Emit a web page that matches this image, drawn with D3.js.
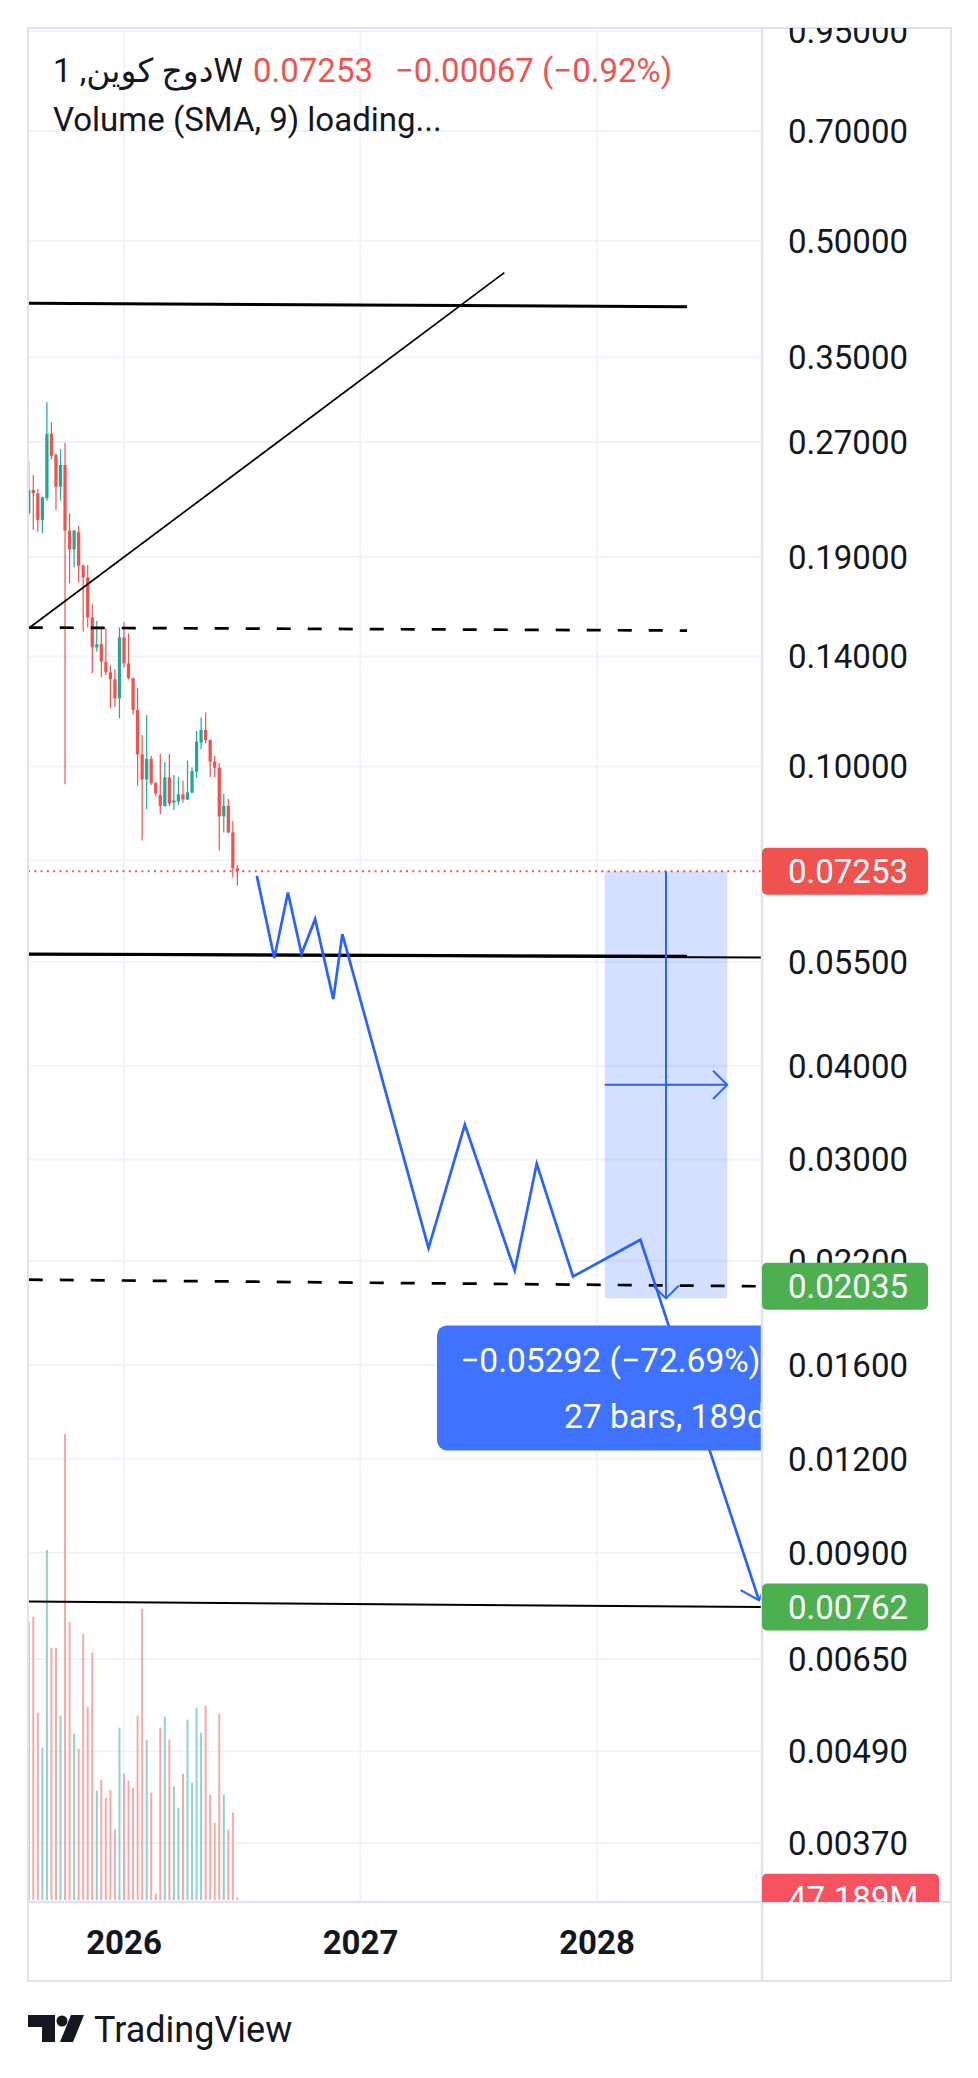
<!DOCTYPE html>
<html>
<head>
<meta charset="utf-8">
<script src="https://cdn.jsdelivr.net/npm/d3@7"></script>
<style>
  html, body { margin: 0; padding: 0; background: #fff; }
  svg { display: block; font-family: Roboto, "DejaVu Sans", "Noto Sans", sans-serif; }
</style>
</head>
<body>
<div class="canvas"></div>
<script>
// weekly candles, first bar week of 2025-08-07
const firstWeek = '2025-08-07'
const opens  = [0.2171,0.2332,0.2308,0.2127,0.2273,0.2768,0.2596,0.2356,0.2517,0.2059,0.1944,0.2048,0.1849,0.1784,0.1579,0.1440,0.1454,0.1378,0.1334,0.1306,0.1232,0.1485,0.1371,0.1310,0.1189,0.1038,0.0961,0.1023,0.0950,0.0916,0.0886,0.0967,0.0895,0.0898,0.0918,0.0904,0.0923,0.0984,0.1076,0.1118,0.1084,0.1015,0.0996,0.0858,0.0886,0.0817,0.0732]
const highs  = [0.2548,0.2441,0.2339,0.2285,0.3050,0.2869,0.2609,0.2643,0.2695,0.2171,0.2063,0.2088,0.1857,0.1853,0.1645,0.1561,0.1527,0.1527,0.1364,0.1346,0.1531,0.1555,0.1503,0.1313,0.1270,0.1101,0.1171,0.1033,0.0955,0.1039,0.1014,0.1039,0.0974,0.0969,0.0957,0.1018,0.0997,0.1115,0.1162,0.1180,0.1086,0.1033,0.1010,0.0919,0.0905,0.0846,0.0740]
const lows   = [0.2149,0.2063,0.2052,0.2042,0.2257,0.2562,0.2193,0.2257,0.0947,0.1752,0.1840,0.1756,0.1511,0.1531,0.1330,0.1421,0.1314,0.1323,0.1195,0.1201,0.1159,0.1354,0.1305,0.1173,0.0943,0.0797,0.0877,0.0945,0.0912,0.0864,0.0884,0.0886,0.0875,0.0889,0.0895,0.0902,0.0921,0.0966,0.1054,0.1073,0.0969,0.0967,0.0773,0.0817,0.0815,0.0712,0.0694]
const closes = [0.2332,0.2308,0.2127,0.2280,0.2768,0.2588,0.2356,0.2517,0.2059,0.1944,0.2059,0.1849,0.1784,0.1579,0.1440,0.1454,0.1378,0.1334,0.1306,0.1232,0.1485,0.1371,0.1310,0.1189,0.1038,0.0961,0.1023,0.0950,0.0921,0.0886,0.0967,0.0893,0.0901,0.0918,0.0904,0.0924,0.0986,0.1079,0.1118,0.1084,0.1015,0.0996,0.0858,0.0886,0.0817,0.0732,0.07253]
// volume in millions
const volumes = [5628,5729,3788,3080,7077,5102,5102,3727,9423,5628,3363,3060,5385,3909,5001,2211,2433,2069,2231,1422,3485,2554,2413,2271,3727,5891,3242,2170,128,3485,3707,3242,2292,1867,2554,3646,2372,3889,3383,3929,2130,1564,3768,2130,1422,1766,47.189]

// projected path (blue)
const pathDates  = ['2026-07-25','2026-08-21','2026-09-11','2026-10-02','2026-10-23','2026-11-20','2026-12-04','2027-04-16','2027-06-11','2027-08-27','2027-09-30','2027-11-25','2028-03-08','2028-09-07']
const pathPrices = [0.07152,0.05561,0.06796,0.05634,0.06264,0.04904,0.05984,0.02288,0.03337,0.02136,0.02962,0.02097,0.02347,0.00778]

// drawn lines: [date1, price1, date2, price2]
const drawnLines = [
  ['2025-08-07', 0.4130, '2028-05-19', 0.4087],
  ['2025-08-07', 0.1527, '2027-08-11', 0.4536],
  ['2025-08-07', 0.1530, '2028-05-19', 0.1516],
  ['2025-08-07', 0.0563, '2028-05-19', 0.0559],
  ['2025-08-07', 0.0562, '2028-09-14', 0.0557],
  ['2025-08-07', 0.02077, '2028-09-14', 0.02035],
  ['2025-08-07', 0.00775, '2028-09-14', 0.00762]
]
const lineKinds = ['thick', 'thin', 'dash', 'thick', 'mid', 'dash', 'mid']

// date & price range measure
const rangeDates  = ['2028-01-13', '2028-07-20']
const rangePrices = [0.07253, 0.01961]
const rangeTexts  = ['\u22120.05292 (\u221272.69%) \u22125,292', '27 bars, 189d']

const priceTicks = [0.95,0.70,0.50,0.35,0.27,0.19,0.14,0.10,0.075,0.055,0.04,0.03,0.022,0.016,0.012,0.009,0.0065,0.0049,0.0037]
const hiddenTicks = [0.075] // label sits under the last-price badge
const yearTicks = ['2026-01-01', '2027-01-01', '2028-01-01']
const priceBadges = [0.07253, 0.02035, 0.00762]
const badgeKinds = ['last', 'line', 'line']
const volumeBadge = '47.189M'

const up = '#26a69a', down = '#ef5350'
const parse = d3.utcParse('%Y-%m-%d')

const W = 978, H = 2078
const pane = { left: 28, top: 28, right: 762, bottom: 1902 }

const svg = d3.select('.canvas')
  .append('svg')
  .attr('width', W)
  .attr('height', H)

svg.append('rect').attr('width', W).attr('height', H).attr('fill', '#fff')

const x = d3.scaleUtc()
  .domain([parse('2026-01-01'), parse('2028-01-01')])
  .range([124, 597])

const y = d3.scaleLog()
  .domain([0.7, 0.0037])
  .range([131, 1843])

const yVol = d3.scaleLinear()
  .domain([0, 9423])
  .range([1900, 1434])

const weekPx = x(parse('2026-01-08')) - x(parse('2026-01-01'))
const start = parse(firstWeek)
const bars = opens.map((o, i) => ({
  date: d3.utcDay.offset(start, i * 7),
  o, h: highs[i], l: lows[i], c: closes[i], v: volumes[i]
}))

const defs = svg.append('defs')
defs.append('clipPath').attr('id', 'pane')
  .append('rect')
  .attr('x', pane.left).attr('y', pane.top)
  .attr('width', pane.right - pane.left).attr('height', pane.bottom - pane.top)
defs.append('clipPath').attr('id', 'axis')
  .append('rect')
  .attr('x', pane.right).attr('y', pane.top)
  .attr('width', 951 - pane.right).attr('height', pane.bottom - pane.top)

const graph = svg.append('g').attr('clip-path', 'url(#pane)')

// grid
graph.selectAll('.hgrid')
  .data(priceTicks)
  .enter().append('line')
  .attr('x1', pane.left).attr('x2', pane.right)
  .attr('y1', d => y(d)).attr('y2', d => y(d))
  .attr('stroke', '#f0f3fa').attr('stroke-width', 2)

graph.selectAll('.vgrid')
  .data(yearTicks)
  .enter().append('line')
  .attr('x1', d => x(parse(d))).attr('x2', d => x(parse(d)))
  .attr('y1', pane.top).attr('y2', pane.bottom)
  .attr('stroke', '#f0f3fa').attr('stroke-width', 2)

// volume
graph.selectAll('.vol')
  .data(bars)
  .enter().append('rect')
  .attr('x', d => x(d.date) - 1)
  .attr('width', 2)
  .attr('y', d => yVol(d.v))
  .attr('height', d => yVol(0) - yVol(d.v))
  .attr('fill', d => d.c >= d.o ? '#92d2cc' : '#f7a9a7')

// measure box
const rx0 = x(parse(rangeDates[0])), rx1 = x(parse(rangeDates[1]))
const ry0 = y(rangePrices[0]), ry1 = y(rangePrices[1])
const rxm = (rx0 + rx1) / 2, rym = (ry0 + ry1) / 2
graph.append('rect')
  .attr('x', rx0).attr('y', ry0)
  .attr('width', rx1 - rx0).attr('height', ry1 - ry0)
  .attr('fill', 'rgba(41,98,255,0.2)')

// last price line
graph.append('line')
  .attr('x1', pane.left).attr('x2', pane.right)
  .attr('y1', y(closes[closes.length - 1])).attr('y2', y(closes[closes.length - 1]))
  .attr('stroke', down).attr('stroke-width', 2)
  .attr('stroke-dasharray', '2,4.3')

// candles
const candle = graph.selectAll('.candle')
  .data(bars)
  .enter().append('g')
  .attr('fill', d => d.c >= d.o ? up : down)
candle.append('rect')
  .attr('x', d => x(d.date) - 0.6).attr('width', 1.2)
  .attr('y', d => y(d.h)).attr('height', d => y(d.l) - y(d.h))
candle.append('rect')
  .attr('x', d => x(d.date) - weekPx * 0.36).attr('width', weekPx * 0.72)
  .attr('y', d => y(Math.max(d.o, d.c)))
  .attr('height', d => Math.max(1, Math.abs(y(d.o) - y(d.c))))

// drawn lines
const lineStyle = {
  thick: { w: 3, dash: null },
  thin: { w: 1.7, dash: null },
  mid: { w: 2, dash: null },
  dash: { w: 2.7, dash: '14,17' }
}
graph.selectAll('.drawn')
  .data(drawnLines)
  .enter().append('line')
  .attr('x1', d => x(parse(d[0]))).attr('y1', d => y(d[1]))
  .attr('x2', d => x(parse(d[2]))).attr('y2', d => y(d[3]))
  .attr('stroke', '#000')
  .attr('stroke-width', (d, i) => lineStyle[lineKinds[i]].w)
  .attr('stroke-dasharray', (d, i) => lineStyle[lineKinds[i]].dash)

// blue projection
const pts = pathDates.map((d, i) => [x(parse(d)), y(pathPrices[i])])
graph.append('path')
  .attr('d', d3.line()(pts))
  .attr('fill', 'none').attr('stroke', '#2962ff')
  .attr('stroke-width', 2.7).attr('stroke-linejoin', 'miter')

function arrowHead (from, to, len, spread) {
  const a = Math.atan2(from[1] - to[1], from[0] - to[0])
  return [
    [to[0] + len * Math.cos(a - spread), to[1] + len * Math.sin(a - spread)],
    to,
    [to[0] + len * Math.cos(a + spread), to[1] + len * Math.sin(a + spread)]
  ]
}
graph.append('path')
  .attr('d', d3.line()(arrowHead(pts[pts.length - 2], pts[pts.length - 1], 21, Math.PI / 4.2)))
  .attr('fill', 'none').attr('stroke', '#2962ff').attr('stroke-width', 2.2)

// measure arrows
const mGroup = graph.append('g').attr('stroke', '#2962ff').attr('stroke-width', 2).attr('fill', 'none')
mGroup.append('line').attr('x1', rxm).attr('x2', rxm).attr('y1', ry0).attr('y2', ry1)
mGroup.append('line').attr('x1', rx0).attr('x2', rx1).attr('y1', rym).attr('y2', rym)
mGroup.append('path').attr('d', d3.line()(arrowHead([rxm, ry0], [rxm, ry1], 18, Math.PI / 4)))
mGroup.append('path').attr('d', d3.line()(arrowHead([rx0, rym], [rx1, rym], 20, Math.PI / 4)))

// measure label (runs past the pane edge and gets clipped)
const labelTop = ry1 + 27
const labelLeft = 437, labelW = 456
const labelMid = labelLeft + labelW / 2
graph.append('rect')
  .attr('x', labelLeft).attr('y', labelTop)
  .attr('width', labelW).attr('height', 125)
  .attr('rx', 10)
  .attr('fill', '#3e72ff')
graph.selectAll('.mtext')
  .data(rangeTexts)
  .enter().append('text')
  .attr('x', labelMid)
  .attr('y', (d, i) => labelTop + 47 + i * 56)
  .attr('text-anchor', 'middle')
  .attr('fill', '#fff')
  .style('font-size', '33.5px')
  .text(d => d)

// frame
const frame = svg.append('g').attr('fill', 'none').attr('stroke', '#e0e3eb')
frame.append('rect').attr('x', 28).attr('y', 28).attr('width', 923).attr('height', 1953).attr('stroke-width', 2)
frame.append('line').attr('x1', pane.right).attr('x2', pane.right).attr('y1', 28).attr('y2', 1981).attr('stroke-width', 2.5)
frame.append('line').attr('x1', 28).attr('x2', 951).attr('y1', pane.bottom).attr('y2', pane.bottom).attr('stroke-width', 2.5)

// price axis
const axis = svg.append('g').attr('clip-path', 'url(#axis)')
axis.selectAll('.tick')
  .data(priceTicks.filter(d => !hiddenTicks.includes(d)))
  .enter().append('text')
  .attr('x', 788)
  .attr('y', d => y(d))
  .attr('dy', '0.36em')
  .attr('fill', '#131722')
  .style('font-size', '33px')
  .text(d => d.toFixed(5))

const badges = axis.selectAll('.badge')
  .data(priceBadges)
  .enter().append('g')
badges.append('rect')
  .attr('x', pane.right).attr('width', 166)
  .attr('y', d => y(d) - 23.5).attr('height', 47)
  .attr('rx', 5)
  .attr('fill', (d, i) => badgeKinds[i] === 'last' ? '#ef5350' : '#4caf50')
badges.append('text')
  .attr('x', 788)
  .attr('y', d => y(d))
  .attr('dy', '0.36em')
  .attr('fill', '#fff')
  .style('font-size', '33px')
  .text(d => d.toFixed(5))

const volBadge = axis.append('g')
volBadge.append('rect')
  .attr('x', pane.right).attr('width', 177)
  .attr('y', yVol(volumes[volumes.length - 1]) - 24).attr('height', 48)
  .attr('rx', 5)
  .attr('fill', '#f7525f')
volBadge.append('text')
  .attr('x', 788)
  .attr('y', yVol(volumes[volumes.length - 1]))
  .attr('dy', '0.36em')
  .attr('fill', '#fff')
  .style('font-size', '33px')
  .text(volumeBadge)

// time axis
svg.selectAll('.year')
  .data(yearTicks)
  .enter().append('text')
  .attr('x', d => x(parse(d)))
  .attr('y', 1942)
  .attr('dy', '0.36em')
  .attr('text-anchor', 'middle')
  .attr('fill', '#131722')
  .style('font-size', '33px')
  .style('font-weight', 700)
  .text(d => d.slice(0, 4))

// legend
const legend = svg.append('g').style('font-size', '33px')
legend.append('text')
  .attr('x', 53).attr('y', 82)
  .attr('fill', '#131722')
  .text('دوج كوين, 1W')
legend.append('text')
  .attr('x', 253).attr('y', 82)
  .attr('fill', '#ef5350')
  .text(closes[closes.length - 1].toFixed(5))
legend.append('text')
  .attr('x', 395).attr('y', 82)
  .attr('fill', '#ef5350')
  .text('\u22120.00067 (\u22120.92%)')
legend.append('text')
  .attr('x', 53).attr('y', 131)
  .attr('fill', '#131722')
  .text('Volume (SMA, 9) loading...')

// TradingView logo
const logo = svg.append('g').attr('fill', '#131722')
logo.append('path').attr('d', 'M28,2015 H55 V2042 H42 V2027 H28 Z')
logo.append('circle').attr('cx', 62).attr('cy', 2021).attr('r', 5.5)
logo.append('path').attr('d', 'M71,2015 H84 L73,2042 H60 Z')
logo.append('text')
  .attr('x', 94).attr('y', 2042)
  .style('font-size', '36px')
  .text('TradingView')
</script>
</body>
</html>
